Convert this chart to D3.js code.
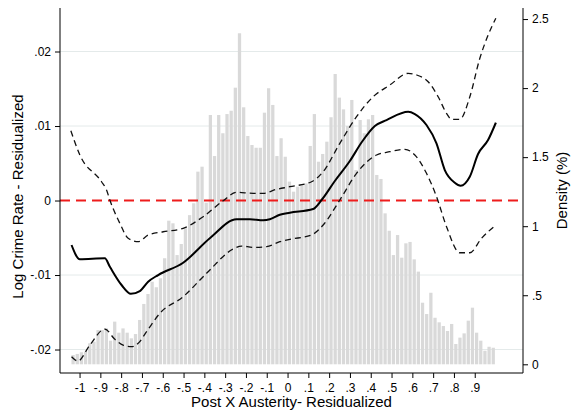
<!DOCTYPE html>
<html><head><meta charset="utf-8">
<script src="https://cdn.jsdelivr.net/npm/d3@7"></script>
<style>body{margin:0;background:#fff}svg{display:block}</style>
</head><body>
<script>
// ---- data ----
const binStart = -1.041, binWidth = 0.02;
const density = [0.067,0.075,0.087,0.091,0.152,0.164,0.248,0.248,0.26,0.171,
0.309,0.229,0.26,0.229,0.188,0.219,0.321,0.437,0.509,0.598,
0.558,0.623,0.768,1.04,1.021,0.791,0.871,0.985,1.08,1.166,
1.395,1.431,1.17,1.805,1.508,1.805,1.673,1.812,1.836,2.003,
2.397,1.861,1.653,1.588,1.568,1.568,1.822,1.999,1.878,1.508,
1.637,1.503,1.323,1.25,1.286,1.298,1.31,1.581,1.812,1.467,
1.523,1.612,1.789,2.102,1.931,1.846,1.726,1.914,1.407,1.769,
1.673,1.774,1.805,1.371,1.342,1.093,0.967,0.791,0.936,0.772,
0.876,0.886,0.76,0.671,0.446,0.364,0.518,0.337,0.304,0.277,
0.241,0.292,0.147,0.193,0.224,0.316,0.41,0.229,0.171,0.098,
0.127,0.12];
const estimate = [[-1.0385,-0.00597],[-0.9986,-0.00789],[-0.8784,-0.00776],[-0.8543,-0.00889],[-0.798,-0.01134],[-0.7534,-0.01251],[-0.7101,-0.01215],[-0.6702,-0.0109],[-0.622,-0.0100],[-0.5019,-0.00835],[-0.3736,-0.00507],[-0.2452,-0.00252],[-0.1813,-0.00252],[-0.1173,-0.00266],[-0.0851,-0.00252],[-0.037,-0.00191],[0.011,-0.00164],[0.123,-0.00114],[0.1635,0.00007],[0.2274,0.00262],[0.2995,0.0053],[0.3572,0.00785],[0.4197,0.0100],[0.476,0.0108],[0.58,0.01192],[0.612,0.01161],[0.668,0.01013],[0.716,0.00768],[0.756,0.00409],[0.804,0.00239],[0.832,0.00199],[0.876,0.00319],[0.916,0.00624],[0.964,0.00812],[1.0014,0.01044]];
const upperCI = [[-1.0418,0.00937],[-0.9986,0.00611],[-0.8942,0.00252],[-0.8702,0.00141],[-0.8543,0.00007],[-0.8063,-0.00306],[-0.7663,-0.00507],[-0.7183,-0.00553],[-0.6702,-0.00463],[-0.598,-0.00419],[-0.5019,-0.00373],[-0.4058,-0.00217],[-0.3096,-0.00003],[-0.2452,0.0011],[-0.1654,0.00097],[-0.1173,0.00097],[-0.0529,0.0015],[0.011,0.00185],[0.1154,0.00252],[0.1712,0.00387],[0.2514,0.00768],[0.3317,0.01125],[0.4115,0.01393],[0.4918,0.0155],[0.5798,0.01707],[0.6202,0.01685],[0.676,0.01595],[0.724,0.01393],[0.7644,0.0117],[0.7885,0.0109],[0.8284,0.0109],[0.8764,0.01393],[0.9245,0.01909],[0.9644,0.02221],[1.0014,0.02446]];
const lowerCI = [[-1.0385,-0.02097],[-1.0082,-0.02154],[-0.9505,-0.0194],[-0.8784,-0.01725],[-0.8303,-0.01863],[-0.7904,-0.0194],[-0.75,-0.01962],[-0.7183,-0.01917],[-0.6779,-0.01761],[-0.6139,-0.01514],[-0.5019,-0.01291],[-0.3894,-0.00977],[-0.2615,-0.00651],[-0.2212,-0.00611],[-0.1654,-0.00628],[-0.101,-0.0062],[-0.037,-0.00553],[0.011,-0.00521],[0.1154,-0.00463],[0.1712,-0.00329],[0.2514,0.00007],[0.3317,0.00365],[0.4279,0.00611],[0.4918,0.00655],[0.564,0.00687],[0.612,0.00611],[0.668,0.00365],[0.7163,0.00051],[0.7644,-0.00352],[0.8284,-0.00701],[0.8764,-0.00701],[0.9327,-0.00507],[1.0014,-0.00329]];
const xTicks = [-1,-0.9,-0.8,-0.7,-0.6,-0.5,-0.4,-0.3,-0.2,-0.1,0,0.1,0.2,0.3,0.4,0.5,0.6,0.7,0.8,0.9];
const xTickLabels = ["-1","-.9","-.8","-.7","-.6","-.5","-.4","-.3","-.2","-.1","0",".1",".2",".3",".4",".5",".6",".7",".8",".9"];
const yTicks = [-0.02,-0.01,0,0.01,0.02];
const yTickLabels = ["-.02","-.01","0",".01",".02"];
const dTicks = [0,0.5,1,1.5,2,2.5];
const dTickLabels = ["0",".5","1","1.5","2","2.5"];

// ---- layout ----
const W = 581, H = 412;
const L = 60, R = 523, T = 8, B = 373;
const font = "'Liberation Sans', Arial, Helvetica, sans-serif";
const svg = d3.select("body").append("svg").attr("width", W).attr("height", H)
  .style("font-family", font);

const x = d3.scaleLinear().domain([-1.094, 1.132]).range([L, R]);
const yL = d3.scaleLinear().domain([-0.02315, 0.02584]).range([B, T]);
const yR = d3.scaleLinear().domain([-0.063, 2.58]).range([B, T]);

// grid
svg.append("g").selectAll("line").data(yTicks.filter(d => d !== 0)).join("line")
  .attr("x1", L).attr("x2", R).attr("y1", d => yL(d)).attr("y2", d => yL(d))
  .attr("stroke", "#e4eaea").attr("stroke-width", 1);

// bars
svg.append("g").selectAll("rect").data(density).join("rect")
  .attr("x", (d, i) => x(binStart + i * binWidth) + 0.45)
  .attr("width", (d, i) => x(binStart + (i + 1) * binWidth) - x(binStart + i * binWidth) - 0.9)
  .attr("y", d => yR(d))
  .attr("height", d => yR(0) - yR(d))
  .attr("fill", "#d9d9d9");

// zero reference
svg.append("line").attr("x1", L).attr("x2", R).attr("y1", yL(0)).attr("y2", yL(0))
  .attr("stroke", "#ee1c1c").attr("stroke-width", 2).attr("stroke-dasharray", "10,6");

const line = d3.line().x(d => x(d[0])).y(d => yL(d[1])).curve(d3.curveMonotoneX);
svg.append("path").datum(upperCI).attr("d", line).attr("fill", "none")
  .attr("stroke", "#111").attr("stroke-width", 1.3).attr("stroke-dasharray", "6,4");
svg.append("path").datum(lowerCI).attr("d", line).attr("fill", "none")
  .attr("stroke", "#111").attr("stroke-width", 1.3).attr("stroke-dasharray", "6,4");
svg.append("path").datum(estimate).attr("d", line).attr("fill", "none")
  .attr("stroke", "#000").attr("stroke-width", 2);

// axes
const axL = svg.append("g").attr("transform", `translate(${L},0)`)
  .call(d3.axisLeft(yL).tickValues(yTicks).tickSize(5).tickPadding(4)
    .tickFormat((d, i) => yTickLabels[i]));
const axR = svg.append("g").attr("transform", `translate(${R},0)`)
  .call(d3.axisRight(yR).tickValues(dTicks).tickSize(5).tickPadding(4)
    .tickFormat((d, i) => dTickLabels[i]));
const axB = svg.append("g").attr("transform", `translate(0,${B})`)
  .call(d3.axisBottom(x).tickValues(xTicks).tickSize(5).tickPadding(5)
    .tickFormat((d, i) => xTickLabels[i]));
[axL, axR, axB].forEach(g => {
  g.select(".domain").remove();
  g.selectAll("text").attr("font-size", 12).attr("fill", "#000").style("font-family", font);
  g.selectAll(".tick line").attr("stroke", "#000");
});
svg.append("line").attr("x1", L).attr("x2", L).attr("y1", T).attr("y2", B).attr("stroke", "#000");
svg.append("line").attr("x1", R).attr("x2", R).attr("y1", T).attr("y2", B).attr("stroke", "#000");
svg.append("line").attr("x1", L).attr("x2", R).attr("y1", B).attr("y2", B).attr("stroke", "#000");

// titles
svg.append("text").attr("x", (L + R) / 2).attr("y", 407).attr("text-anchor", "middle")
  .attr("font-size", 15).text("Post X Austerity- Residualized");
svg.append("text").attr("transform", `translate(23,${(T + B) / 2 + 6}) rotate(-90)`)
  .attr("text-anchor", "middle").attr("font-size", 15).text("Log Crime Rate - Residualized");
svg.append("text").attr("transform", `translate(567,${(T + B) / 2}) rotate(-90)`)
  .attr("text-anchor", "middle").attr("font-size", 15).text("Density (%)");
</script>
</body></html>
